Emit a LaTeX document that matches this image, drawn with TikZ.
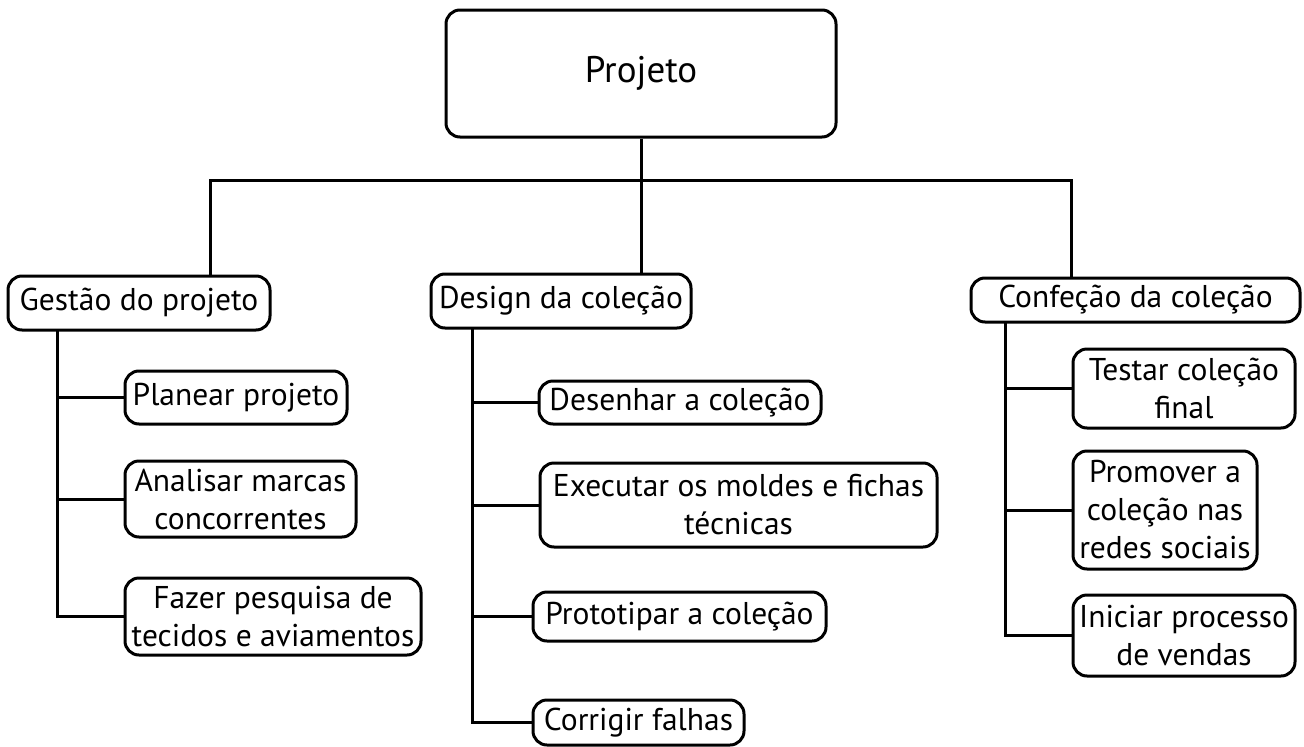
\documentclass[tikz,border=0pt]{standalone}
\usepackage{fontspec}
\setmainfont{PT Sans}
\begin{document}
\begin{tikzpicture}[x=1pt,y=-1pt,
  box/.style={draw, rounded corners=14pt, line width=3pt, align=center, inner sep=0pt, font=\fontsize{31.5}{38}\selectfont},
  link/.style={line width=3pt}]
\useasboundingbox (0,0) rectangle (1304,747);
% top
\node[box, minimum width=390pt, minimum height=127pt, font=\fontsize{37}{44}\selectfont] (proj) at (641,73.5) {Projeto};
% level 1
\node[box, minimum width=262pt, minimum height=54pt] (ges) at (139,303) {Gestão do projeto};
\node[box, minimum width=260pt, minimum height=54pt] (des) at (561,301) {Design da coleção};
\node[box, minimum width=329pt, minimum height=44pt] (conf) at (1135.5,300) {Confeção da coleção};
% gestao children
\node[box, minimum width=222pt, minimum height=53pt] (pla) at (236,397.5) {Planear projeto};
\node[box, minimum width=231pt, minimum height=76pt] (ana) at (240.5,499) {Analisar marcas\\concorrentes};
\node[box, minimum width=296pt, minimum height=77pt] (faz) at (273,616.5) {Fazer pesquisa de\\tecidos e aviamentos};
% design children
\node[box, minimum width=282pt, minimum height=43pt] (dse) at (680,402.5) {Desenhar a coleção};
\node[box, minimum width=397pt, minimum height=84pt] (exe) at (738.5,505) {Executar os moldes e fichas\\técnicas};
\node[box, minimum width=293pt, minimum height=49pt] (pro) at (679.5,616.5) {Prototipar a coleção};
\node[box, minimum width=211pt, minimum height=45pt] (cor) at (638.5,722.5) {Corrigir falhas};
% confecao children
\node[box, minimum width=222pt, minimum height=79pt] (tes) at (1184,388.5) {Testar coleção\\final};
\node[box, minimum width=184pt, minimum height=118pt] (prm) at (1165,510) {Promover a\\coleção nas\\redes sociais};
\node[box, minimum width=222pt, minimum height=81pt] (ini) at (1184,635.5) {Iniciar processo\\de vendas};
% junctions
\coordinate (j) at (641,180);
\coordinate (jl) at (210,180);
\coordinate (jr) at (1071,180);
\coordinate (gt) at (57,330);
\coordinate (dt) at (472,328);
\coordinate (ct) at (1005,322);
% top connectors
\draw[link] (proj.south) -- (j);
\draw[link] (ges.north -| jl) -- (jl) -- (jr) -- (conf.north -| jr);
\draw[link] (j) -- (des.north -| j);
% gestao
\draw[link] (gt) |- (faz.west);
\draw[link] (pla.west -| gt) -- (pla.west);
\draw[link] (ana.west -| gt) -- (ana.west);
% design
\draw[link] (dt) |- (cor.west);
\draw[link] (dse.west -| dt) -- (dse.west);
\draw[link] (exe.west -| dt) -- (exe.west);
\draw[link] (pro.west -| dt) -- (pro.west);
% confecao
\draw[link] (ct) |- (ini.west);
\draw[link] (tes.west -| ct) -- (tes.west);
\draw[link] (prm.west -| ct) -- (prm.west);
\end{tikzpicture}
\end{document}
